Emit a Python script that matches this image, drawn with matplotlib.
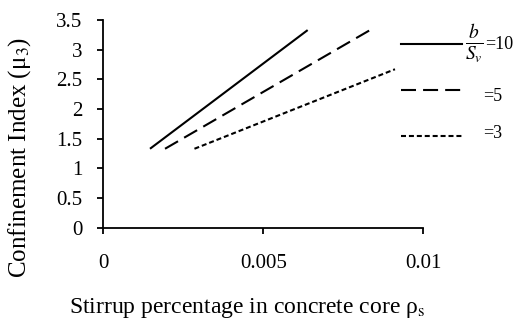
import matplotlib.pyplot as plt
from matplotlib.lines import Line2D

plt.rcParams['font.family'] = ['Liberation Serif', 'DejaVu Serif']
plt.rcParams['mathtext.fontset'] = 'stix'

# stirrup percentage (start, end) and confinement index for each b/Sv
rho_10 = [0.00146, 0.00639]
mu_10 = [1.33, 3.33]
rho_5 = [0.00193, 0.00834]
mu_5 = [1.33, 3.33]
rho_3 = [0.00285, 0.00912]
mu_3 = [1.33, 2.67]

xticks = [0, 0.005, 0.01]
xticklabels = ['0', '0.005', '0.01']
yticks = [0, 0.5, 1, 1.5, 2, 2.5, 3, 3.5]
yticklabels = ['0', '0.5', '1', '1.5', '2', '2.5', '3', '3.5']

fig = plt.figure(figsize=(5.16, 3.22), dpi=100)
ax = fig.add_axes([0.2002, 0.2929, 0.6198, 0.645])

lw = 1.5
ax.plot(rho_10, mu_10, color='black', lw=lw, solid_capstyle='butt')
ax.plot(rho_5, mu_5, color='black', lw=lw, dashes=(7.2, 3.4), dash_capstyle='butt')
ax.plot(rho_3, mu_3, color='black', lw=lw, dashes=(2.4, 1.4), dash_capstyle='butt')

ax.set_xlim(0, 0.01)
ax.set_ylim(0, 3.5)
ax.set_xticks(xticks)
ax.set_xticklabels(xticklabels)
ax.set_yticks(yticks)
ax.set_yticklabels(yticklabels)
ax.spines['top'].set_visible(False)
ax.spines['right'].set_visible(False)
ax.spines['left'].set_linewidth(1.3)
ax.spines['bottom'].set_linewidth(1.3)
ax.tick_params(axis='x', direction='out', length=4, width=1.3, pad=15, labelsize=15)
ax.tick_params(axis='y', direction='out', length=4, width=1.3, pad=11, labelsize=15)

ax.set_ylabel('Confinement Index (μ$_3$)', fontsize=18)
ax.yaxis.set_label_coords(-0.22, 0.34)
ax.set_xlabel(r'Stirrup percentage in concrete core ρ$_\mathrm{s}$', fontsize=17)
ax.xaxis.set_label_coords(0.45, -0.33)

# hand drawn legend
fig.add_artist(Line2D([0.777, 0.895], [0.863, 0.863], color='black', lw=lw))
fig.add_artist(Line2D([0.777, 0.895], [0.720, 0.720], color='black', lw=lw,
                      dashes=(7.2, 3.4), dash_capstyle='butt'))
fig.add_artist(Line2D([0.777, 0.895], [0.578, 0.578], color='black', lw=lw,
                      dashes=(2.4, 1.4), dash_capstyle='butt'))
fig.text(0.902, 0.863, r'$\frac{b}{S_v}$', fontsize=20, va='center', ha='left')
fig.text(0.941, 0.863, '=10', fontsize=13, va='center', ha='left')
fig.text(0.937, 0.700, '=5', fontsize=13, va='center', ha='left')
fig.text(0.937, 0.586, '=3', fontsize=13, va='center', ha='left')

fig.savefig('out.png', dpi=100)
